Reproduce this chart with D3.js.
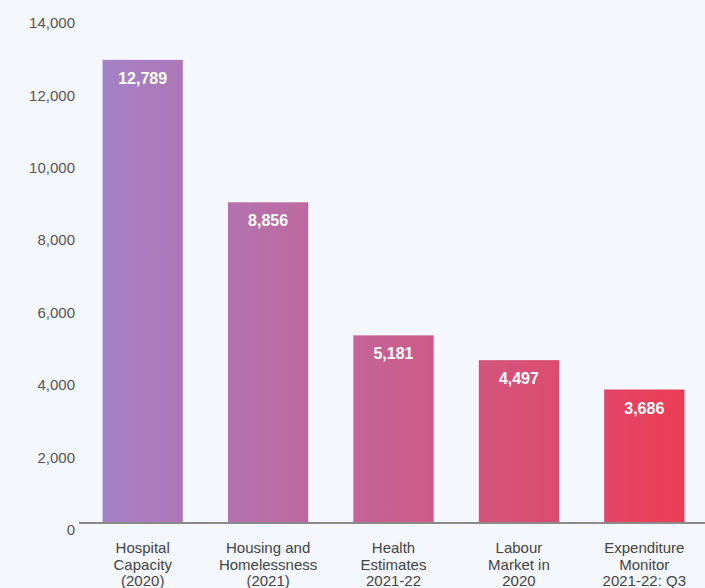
<!DOCTYPE html>
<html>
<head>
<meta charset="utf-8">
<script src="https://cdn.jsdelivr.net/npm/d3@7"></script>
<style>
  html, body { margin: 0; padding: 0; background: #f4f7fc; }
  svg { display: block; font-family: "Liberation Sans", Arial, sans-serif; }
</style>
</head>
<body>
<script>
// chart data
var categories = [
  ["Hospital", "Capacity", "(2020)"],
  ["Housing and", "Homelessness", "(2021)"],
  ["Health", "Estimates", "2021-22"],
  ["Labour", "Market in", "2020"],
  ["Expenditure", "Monitor", "2021-22: Q3"]
];
var values = [12789, 8856, 5181, 4497, 3686];
var yTicks = [0, 2000, 4000, 6000, 8000, 10000, 12000, 14000];

var width = 705, height = 588;
var plotLeft = 80, plotRight = 707, plotTop = 16, plotBottom = 523;

var svg = d3.select("body").append("svg")
  .attr("width", width)
  .attr("height", height);

// gradient across the whole plot, purple to red
var grad = svg.append("defs").append("linearGradient")
  .attr("id", "barGrad")
  .attr("gradientUnits", "userSpaceOnUse")
  .attr("x1", 103).attr("x2", 686)
  .attr("y1", 0).attr("y2", 0);
grad.append("stop").attr("offset", "0%").attr("stop-color", "#a481c6");
grad.append("stop").attr("offset", "50%").attr("stop-color", "#c85f8f");
grad.append("stop").attr("offset", "100%").attr("stop-color", "#ec3c56");

var x = d3.scaleBand()
  .domain(d3.range(values.length))
  .range([plotLeft, plotRight])
  .paddingInner(0.36)
  .paddingOuter(0.18);

var y = d3.scaleLinear()
  .domain([0, 14000])
  .range([plotBottom, plotTop]);

// y tick labels only
var yAxis = svg.append("g")
  .attr("transform", "translate(" + (plotLeft - 5) + ",0)")
  .call(d3.axisLeft(y).tickValues(yTicks).tickSize(0).tickPadding(0).tickFormat(d3.format(",")));
yAxis.select(".domain").remove();
yAxis.selectAll("text")
  .attr("dy", "0.78em")
  .style("font-size", "15px")
  .style("fill", "#555");

// bars
svg.selectAll(".bar")
  .data(values)
  .enter()
  .append("rect")
  .attr("class", "bar")
  .attr("x", function(d, i){ return x(i); })
  .attr("y", function(d){ return y(d); })
  .attr("width", x.bandwidth())
  .attr("height", function(d){ return y(0) - y(d); })
  .style("fill", "url(#barGrad)");

// value labels
svg.selectAll(".val")
  .data(values)
  .enter()
  .append("text")
  .attr("class", "val")
  .attr("x", function(d, i){ return x(i) + x.bandwidth() / 2; })
  .attr("y", function(d){ return y(d) + 24; })
  .attr("text-anchor", "middle")
  .style("font-size", "16px")
  .style("font-weight", "bold")
  .style("fill", "#fff")
  .text(d3.format(","));

// baseline
svg.append("line")
  .attr("x1", plotLeft - 1).attr("x2", width)
  .attr("y1", y(0)).attr("y2", y(0))
  .style("stroke", "#8a8a8a")
  .style("stroke-width", 2);

// category labels
var cat = svg.selectAll(".cat")
  .data(categories)
  .enter()
  .append("text")
  .attr("class", "cat")
  .attr("text-anchor", "middle")
  .style("font-size", "15px")
  .style("fill", "#444")
  .attr("transform", function(d, i){ return "translate(" + (x(i) + x.bandwidth() / 2) + "," + 553 + ")"; });
cat.selectAll("tspan")
  .data(function(d){ return d; })
  .enter()
  .append("tspan")
  .attr("x", 0)
  .attr("y", function(d, i){ return i * 16.5; })
  .text(function(d){ return d; });
</script>
</body>
</html>
